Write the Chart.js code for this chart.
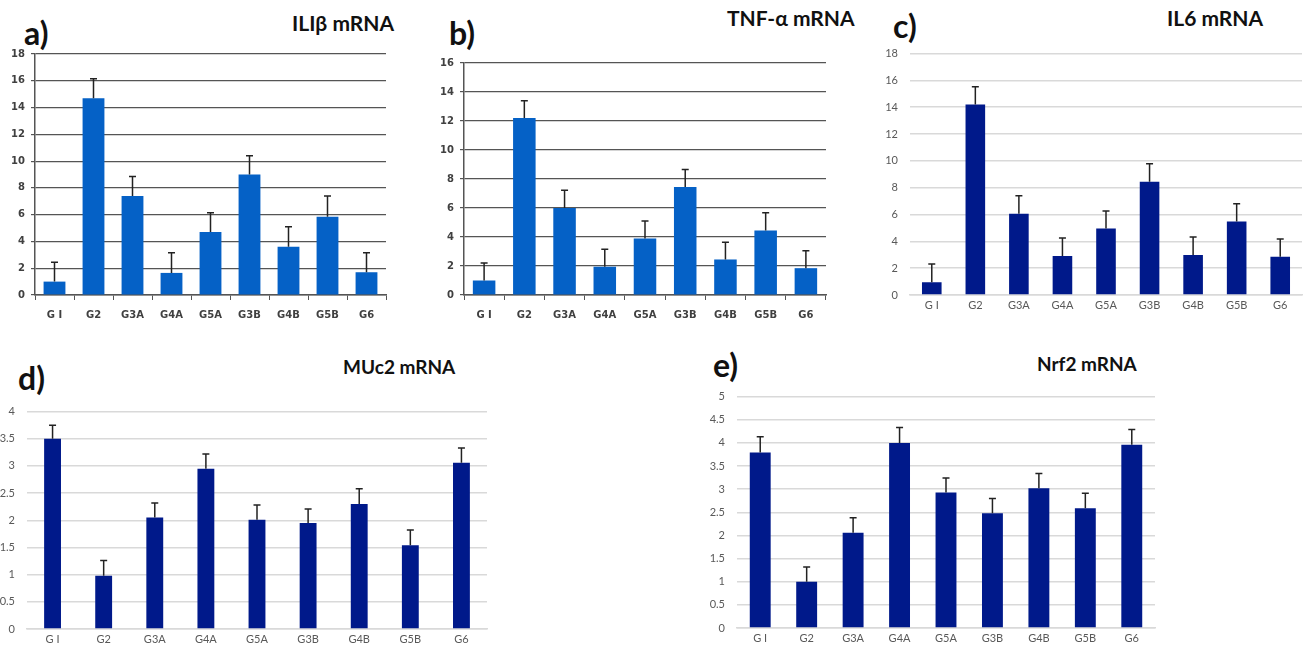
<!DOCTYPE html>
<html>
<head>
<meta charset="utf-8">
<script src="https://cdn.jsdelivr.net/npm/chart.js@4.4.1/dist/chart.umd.min.js"></script>
<style>
  body { margin: 0; background: #fff; width: 1311px; height: 651px; position: relative; overflow: hidden; }
  canvas { position: absolute; }
  .lbl { position: absolute; font-family: Lato, "Open Sans", sans-serif; font-weight: bold; color: #111; line-height: 1; white-space: nowrap; }
</style>
</head>
<body>
<div class="lbl" style="left:24px;top:17px;font-size:32px">a)</div>
<div class="lbl" style="left:292px;top:12px;font-size:21px">ILIβ mRNA</div>
<div class="lbl" style="left:449px;top:17px;font-size:32px">b)</div>
<div class="lbl" style="left:727px;top:7px;font-size:21px">TNF-α mRNA</div>
<div class="lbl" style="left:893px;top:10px;font-size:32px">c)</div>
<div class="lbl" style="left:1167px;top:7px;font-size:21px">IL6 mRNA</div>
<div class="lbl" style="left:18px;top:362px;font-size:32px">d)</div>
<div class="lbl" style="left:343px;top:357px;font-size:19px">MUc2 mRNA</div>
<div class="lbl" style="left:713px;top:349px;font-size:32px">e)</div>
<div class="lbl" style="left:1037px;top:354px;font-size:19px">Nrf2 mRNA</div>

<canvas id="pa"></canvas>
<canvas id="pb"></canvas>
<canvas id="pc"></canvas>
<canvas id="pd"></canvas>
<canvas id="pe"></canvas>

<script>
var groups = ['G I', 'G2', 'G3A', 'G4A', 'G5A', 'G3B', 'G4B', 'G5B', 'G6'];

var il1bMean = [1.0, 14.7, 7.4, 1.65, 4.7, 9.0, 3.6, 5.85, 1.7];
var il1bSd   = [1.45, 1.45, 1.45, 1.5, 1.45, 1.4, 1.5, 1.55, 1.45];

var tnfMean = [1.0, 12.2, 6.0, 1.95, 3.9, 7.45, 2.45, 4.45, 1.85];
var tnfSd   = [1.2, 1.2, 1.22, 1.2, 1.2, 1.2, 1.18, 1.22, 1.2];

var il6Mean = [0.96, 14.2, 6.06, 2.91, 4.95, 8.44, 2.98, 5.48, 2.86];
var il6Sd   = [1.35, 1.33, 1.34, 1.34, 1.32, 1.34, 1.35, 1.32, 1.32];

var muc2Mean = [3.5, 0.98, 2.05, 2.95, 2.01, 1.95, 2.3, 1.54, 3.06];
var muc2Sd   = [0.25, 0.28, 0.27, 0.27, 0.27, 0.26, 0.28, 0.28, 0.27];

var nrf2Mean = [3.79, 1.0, 2.06, 4.0, 2.93, 2.48, 3.02, 2.59, 3.96];
var nrf2Sd   = [0.34, 0.32, 0.32, 0.33, 0.31, 0.32, 0.32, 0.32, 0.33];

// draws the upper error whisker on every bar
var errorBars = {
  id: 'errorBars',
  afterDatasetsDraw: function(chart) {
    var sd = chart.options.plugins.errorBars.sd;
    var meta = chart.getDatasetMeta(0);
    var yScale = chart.scales.y;
    var c = chart.ctx;
    c.save();
    c.strokeStyle = '#222';
    c.lineWidth = 1.5;
    meta.data.forEach(function(bar, i) {
      var v = chart.data.datasets[0].data[i];
      var top = yScale.getPixelForValue(v + sd[i]);
      c.beginPath();
      c.moveTo(bar.x, bar.y);
      c.lineTo(bar.x, top);
      c.moveTo(bar.x - 3.5, top);
      c.lineTo(bar.x + 3.5, top);
      c.stroke();
    });
    c.restore();
  }
};

var YW = 40, PT = 10, PR = 6, XH = 26;

function panel(id, box, mean, sd, max, step, style) {
  var cv = document.getElementById(id);
  var w = box[2] - box[0] + YW + PR;
  var h = box[3] - box[1] + PT + XH;
  cv.width = w; cv.height = h;
  cv.style.left = (box[0] - YW) + 'px';
  cv.style.top = (box[1] - PT) + 'px';
  var old = style === 'old';
  var tickFont = old ? { family: 'DejaVu Sans', size: 10, weight: 'bold' }
                     : { family: 'Lato', size: 11 };
  var tickColor = old ? '#404040' : '#595959';
  return new Chart(cv, {
    type: 'bar',
    data: {
      labels: groups,
      datasets: [{
        data: mean,
        backgroundColor: old ? '#0561C6' : '#00198A',
        barPercentage: old ? 0.56 : (box[2] - box[0] > 420 ? 0.33 : 0.45),
        categoryPercentage: 1
      }]
    },
    options: {
      responsive: false,
      animation: false,
      devicePixelRatio: 1,
      layout: { padding: { top: PT, right: PR, left: 0, bottom: 0 } },
      plugins: {
        legend: { display: false },
        tooltip: { enabled: false },
        errorBars: { sd: sd }
      },
      scales: {
        x: {
          afterFit: function(s) { s.height = XH; },
          grid: old ? { drawOnChartArea: false, tickLength: 5, color: '#555', offset: true }
                    : { display: false, drawTicks: false },
          border: { display: true, color: old ? '#555' : '#d9d9d9', width: 1.5 },
          ticks: { font: tickFont, color: tickColor, padding: old ? 9 : 4 }
        },
        y: {
          min: 0, max: max,
          afterFit: function(s) { s.width = YW; },
          grid: old ? { color: '#555', lineWidth: 1.2, tickLength: 4 }
                    : { color: '#d9d9d9', lineWidth: 1.5, drawTicks: false },
          border: { display: old, color: '#555', width: 1.5 },
          ticks: {
            stepSize: step, font: tickFont, color: tickColor, padding: old ? 6 : 12,
            callback: function(v) { return String(Math.round(v * 10) / 10); }
          }
        }
      }
    },
    plugins: [errorBars]
  });
}

panel('pa', [35, 52, 386, 295], il1bMean, il1bSd, 18, 2, 'old');
panel('pb', [464, 61, 826, 295], tnfMean, tnfSd, 16, 2, 'old');
panel('pc', [910, 45, 1302, 295], il6Mean, il6Sd, 18, 2, 'new');
panel('pd', [27, 403, 487, 629], muc2Mean, muc2Sd, 4, 0.5, 'new');
panel('pe', [737, 388, 1155, 628], nrf2Mean, nrf2Sd, 5, 0.5, 'new');
</script>
</body>
</html>
